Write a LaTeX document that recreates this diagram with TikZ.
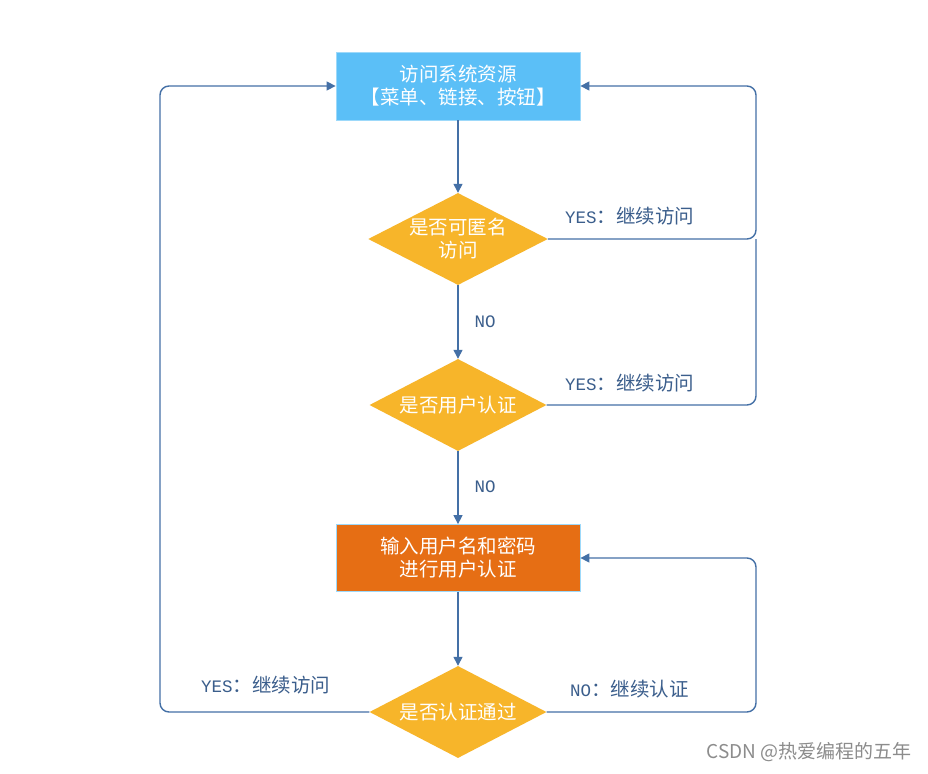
\documentclass[tikz,border=0pt]{standalone}
\usepackage{fontspec}
\newfontfamily\cjk{Noto Sans CJK SC}
\newfontfamily\lbl{Noto Sans CJK SC}
\newfontfamily\monol{Liberation Mono}
\usetikzlibrary{shapes.geometric,arrows.meta}
\definecolor{boxblue}{HTML}{5BBFF7}
\definecolor{boxorange}{HTML}{E66E14}
\definecolor{diayellow}{HTML}{F7B52A}
\definecolor{linecol}{HTML}{4470A6}
\definecolor{lbltext}{HTML}{3B5E8C}
\tikzset{
  procbox/.style={rectangle, minimum width=244pt, minimum height=67pt, inner sep=0pt, draw=boxblue!60!white, line width=0.8pt, text=white, font=\cjk\fontsize{19.5}{23}\selectfont, align=center},
  decide/.style={diamond, aspect=2, minimum width=177pt, minimum height=92pt, inner sep=0pt, fill=diayellow, text=white, font=\cjk\fontsize{19.5}{23}\selectfont, align=center},
  conn/.style={draw=linecol, line width=1.4pt, rounded corners=9pt},
  arr/.style={conn, -{Triangle[length=9pt,width=9pt]}},
  lab/.style={text=lbltext, font=\lbl\fontsize{19.5}{20}\selectfont, inner sep=0pt},
}
\newcommand{\mlat}[1]{{\monol\fontsize{17.5}{20}\selectfont #1}}
\begin{document}
\begin{tikzpicture}[x=1pt,y=-1pt]
\useasboundingbox (0,0) rectangle (928,773);
\fill[white] (0,0) rectangle (928,773);
\node[procbox, fill=boxblue, minimum height=68pt] (top) at (458,86) {访问系统资源\\【菜单、链接、按钮】};
\node[decide] (d1) at (458,239) {是否可匿名\\访问};
\node[decide] (d2) at (458,405) {是否用户认证};
\node[procbox, fill=boxorange] (auth) at (458,558) {输入用户名和密码\\进行用户认证};
\node[decide] (d3) at (458,712) {是否认证通过};
\coordinate (r1) at (756,239);
\coordinate (r2) at (756,405);
\coordinate (l3) at (160,712);
\coordinate (r3) at (756,712);
\draw[arr] (top) -- (d1);
\draw[arr] (d1) -- (d2);
\draw[arr] (d2) -- (auth);
\draw[arr] (auth) -- (d3);
\draw[arr] (d1.east) -- (r1) |- (top.east);
\draw[conn] (d2.east) -- (r2) -- (r1);
\draw[arr] (d3.west) -- (l3) |- (top.west);
\draw[arr] (d3.east) -- (r3) |- (auth.east);
\node[lab, anchor=west] (y1) at (565,216) {\mlat{YES}：继续访问};
\node[lab, anchor=west] (y2) at (565,383) {\mlat{YES}：继续访问};
\node[lab] (n1) at (485,322) {\mlat{NO}};
\node[lab] (n2) at (485,487) {\mlat{NO}};
\node[lab, anchor=west] (y3) at (201,685) {\mlat{YES}：继续访问};
\node[lab, anchor=west] (n3) at (570,689) {\mlat{NO}：继续认证};
\node[text=black!45, font=\cjk\fontsize{19}{21}\selectfont, inner sep=0pt, anchor=east] (wm) at (912,752) {CSDN @热爱编程的五年};
\end{tikzpicture}
\end{document}
